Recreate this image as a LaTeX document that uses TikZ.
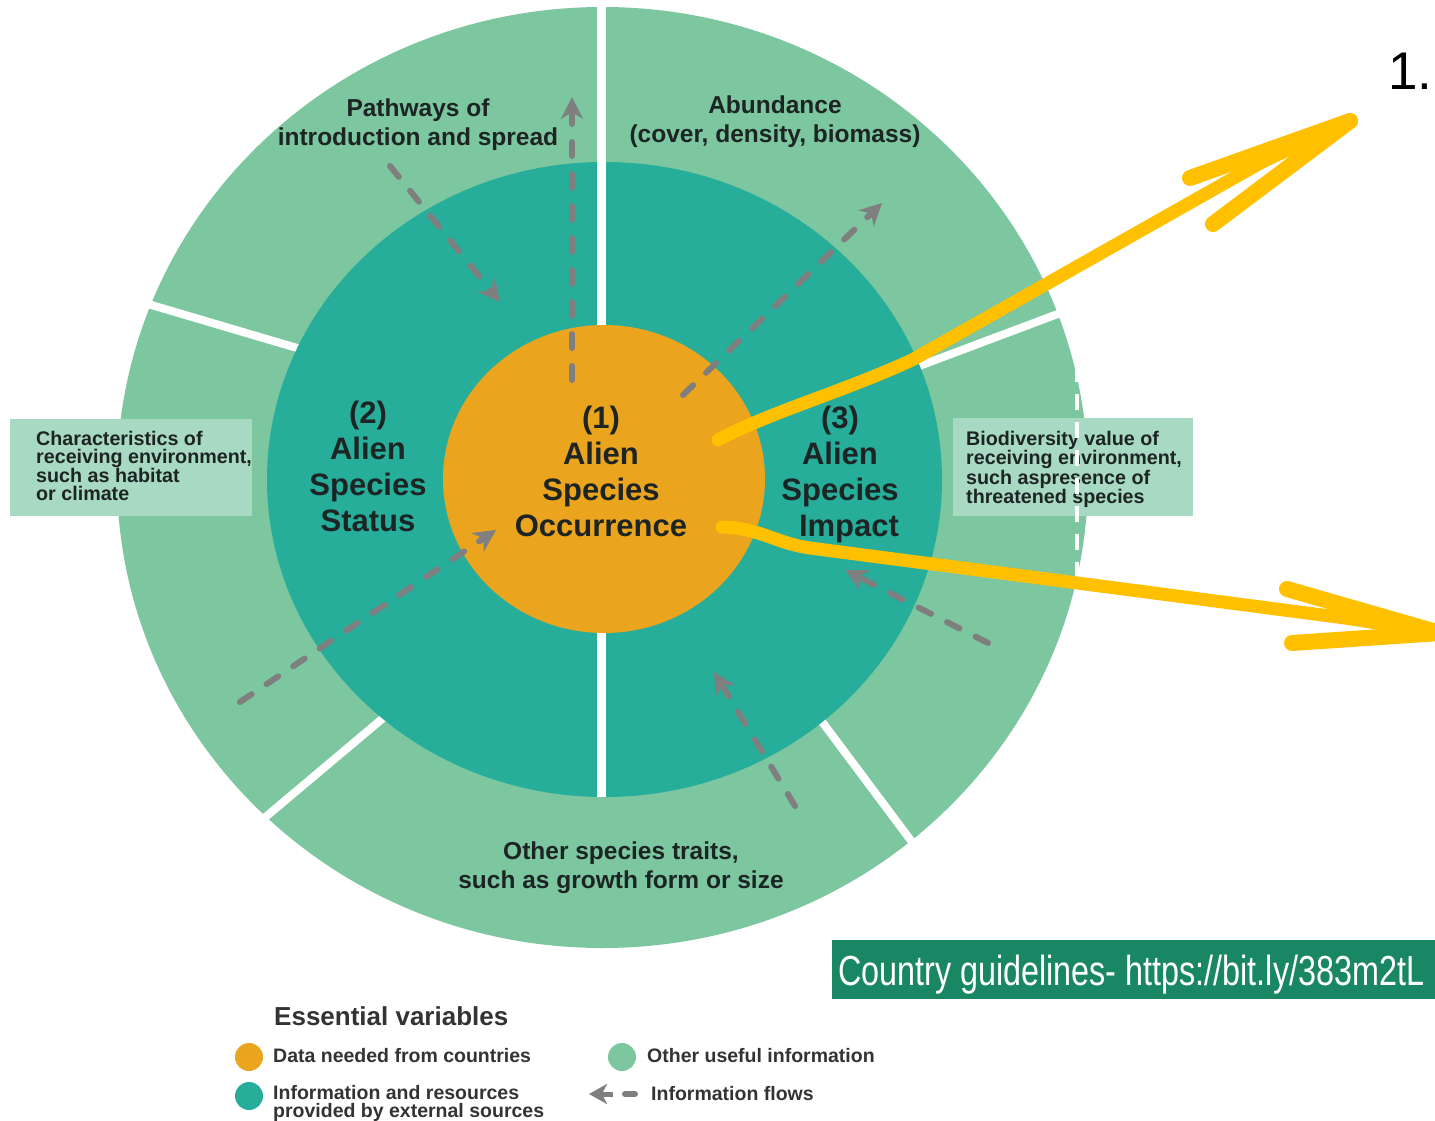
\documentclass[tikz,border=0pt]{standalone}
\usepackage{fontspec}
\setmainfont{Liberation Sans}
\newfontfamily\narrowfont[FakeStretch=0.77]{Liberation Sans}
\usetikzlibrary{arrows.meta}
\definecolor{cRing}{HTML}{7CC6A0}
\definecolor{cTeal}{HTML}{26AE9B}
\definecolor{cOrange}{HTML}{EBA41E}
\definecolor{cBox}{HTML}{A8D9C2}
\definecolor{cGray}{HTML}{7F7F7F}
\definecolor{cYellow}{HTML}{FFC000}
\definecolor{cBanner}{HTML}{1A8764}
\definecolor{cText}{HTML}{1C2424}
\definecolor{cLeg}{HTML}{333333}
\tikzset{
  divider/.style={draw=white, line width=8pt},
  ringlbl/.style={font=\fontsize{24.5}{29}\selectfont\bfseries, text=cText, align=center, inner sep=0pt, anchor=north},
  corelbl/.style={font=\fontsize{31}{36}\selectfont\bfseries, text=cText, align=center, inner sep=0pt, anchor=north},
  boxlbl/.style={font=\fontsize{19.7}{18}\selectfont\bfseries, text=cText, align=left, inner sep=0pt, anchor=north west},
  legtxt/.style={font=\fontsize{19.5}{18}\selectfont\bfseries, text=cLeg, align=left, inner sep=0pt},
  flow/.style={draw=cGray, line width=6pt, dash pattern=on 14pt off 18pt, line cap=round,
    -{Stealth[length=22pt,width=22pt,inset=7pt]}},
  hl/.style={draw=cYellow, line width=13pt, line cap=round, line join=round},
  barb/.style={draw=cYellow, line width=16pt, line cap=round},
  legdot/.style={circle, minimum size=28pt, inner sep=0pt},
}
\begin{document}
\begin{tikzpicture}[x=1pt,y=-1pt]
\clip (0,0) rectangle (1435,1121);
\fill[white] (0,0) rectangle (1435,1121);

% outer ring
\fill[cRing] (602.5,477.5) ellipse [x radius=485.5pt, y radius=470.5pt];
\draw[divider] (131,299) -- (331,358);
\draw[divider] (256,825) -- (401,703);
\draw[divider] (808,703) -- (921,854);
\draw[divider] (890,377) -- (1079,306);
\draw[divider, line width=9pt] (601,-5) -- (601,200);
% middle ring
\fill[cTeal] (604.5,479.5) ellipse [x radius=337.5pt, y radius=317.5pt];
\draw[divider, line width=9pt] (601,150) -- (601,796.5);
% core
\fill[cOrange] (604,479) ellipse [x radius=161pt, y radius=154pt];

% side boxes
\fill[cBox] (10,419) rectangle (252,516);
\fill[cBox] (953,418) rectangle (1193,516);

% information flows
\coordinate (f1s) at (390,166);  \coordinate (f1e) at (500,302);
\coordinate (f2s) at (572,380);  \coordinate (f2e) at (572,97);
\coordinate (f3s) at (683,395);  \coordinate (f3e) at (882,203);
\coordinate (f4s) at (240,702);  \coordinate (f4e) at (496,530);
\coordinate (f5s) at (795,806);  \coordinate (f5e) at (714,672);
\coordinate (f6s) at (988,643);  \coordinate (f6e) at (845,570);
\draw[flow] (f1s) -- (f1e);
\draw[flow] (f2s) -- (f2e);
\draw[flow] (f3s) -- (f3e);
\draw[flow] (f4s) -- (f4e);
\draw[flow] (f5s) -- (f5e);
\draw[flow] (f6s) -- (f6e);

% labels
\node[ringlbl] (path) at (418,99) {Pathways of\\introduction and spread};
\node[ringlbl] (abun) at (775,96) {Abundance\\(cover, density, biomass)};
\node[ringlbl] (traits) at (621,842) {Other species traits,\\such as growth form or size};
\node[corelbl] (status) at (368,401) {(2)\\Alien\\Species\\Status};
\node[corelbl] (occ) at (601,406) {(1)\\Alien\\Species\\Occurrence};
\node[corelbl] (impact) at (840,406) {(3)\\Alien\\Species\\\hspace*{18pt}Impact};
\node[boxlbl] (envtxt) at (36,431) {Characteristics of\\receiving environment,\\such as habitat\\or climate};
\node[boxlbl] (biotxt) at (966,431) {Biodiversity value of\\receiving environment,\\such aspresence of\\threatened species};

% white dashed stroke
\coordinate (wd1) at (1077,366); \coordinate (wd2) at (1077,578);
\draw[white, line width=4pt, dash pattern=on 16pt off 12pt] (wd1) -- (wd2);

% legend
\node[legtxt, font=\fontsize{26}{30}\selectfont\bfseries, anchor=base west] (legtitle) at (274,1025) {Essential variables};
\node[legdot, fill=cOrange] (dotO) at (249,1057) {};
\node[legdot, fill=cTeal] (dotT) at (249,1096) {};
\node[legdot, fill=cRing] (dotR) at (622,1057) {};
\node[legtxt, anchor=base west] (legO) at (273,1062) {Data needed from countries};
\node[legtxt, anchor=north west] (legT) at (273,1085) {Information and resources\\provided by external sources};
\node[legtxt, anchor=base west] (legR) at (647,1062) {Other useful information};
\node[legtxt, anchor=base west] (legF) at (651,1100) {Information flows};
\coordinate (lgS) at (613,1094); \coordinate (lgT) at (589,1094);
\coordinate (lgD1) at (625,1094); \coordinate (lgD2) at (635,1094);
\draw[cGray, line width=5pt, -{Stealth[length=18pt,width=20pt,inset=5pt]}] (lgS) -- (lgT);
\draw[cGray, line width=6pt, line cap=round] (lgD1) -- (lgD2);

% banner and number
\fill[cBanner] (832,940) rectangle (1435,999);
\node[anchor=base west, inner sep=0pt, text=white, font=\narrowfont\fontsize{42}{48}\selectfont] (banner) at (838,985) {Country guidelines- https://bit.ly/383m2tL};
\node[anchor=base west, inner sep=0pt, font=\fontsize{53}{60}\selectfont] (num) at (1388,90) {1.};

% yellow hand-drawn arrows
\coordinate (yA0) at (718,440); \coordinate (yA1) at (912,360); \coordinate (yA2) at (1262,162);
\coordinate (yAt) at (1350,121); \coordinate (yAu) at (1190,178); \coordinate (yAl) at (1213,224);
\draw[hl] (yA0) .. controls (770,412) and (840,393) .. (yA1) -- (yA2) -- (yAt);
\draw[barb] (yAu) -- (yAt);
\draw[barb] (yAl) -- (yAt);
\coordinate (yB0) at (722,527); \coordinate (yB1) at (810,548); \coordinate (yB2) at (1345,618);
\coordinate (yBt) at (1440,633); \coordinate (yBu) at (1287,589); \coordinate (yBl) at (1292,643);
\draw[hl] (yB0) .. controls (760,528) and (775,543) .. (yB1) -- (yB2) -- (yBt);
\draw[barb] (yBu) -- (yBt);
\draw[barb] (yBl) -- (yBt);
\end{tikzpicture}
\end{document}
